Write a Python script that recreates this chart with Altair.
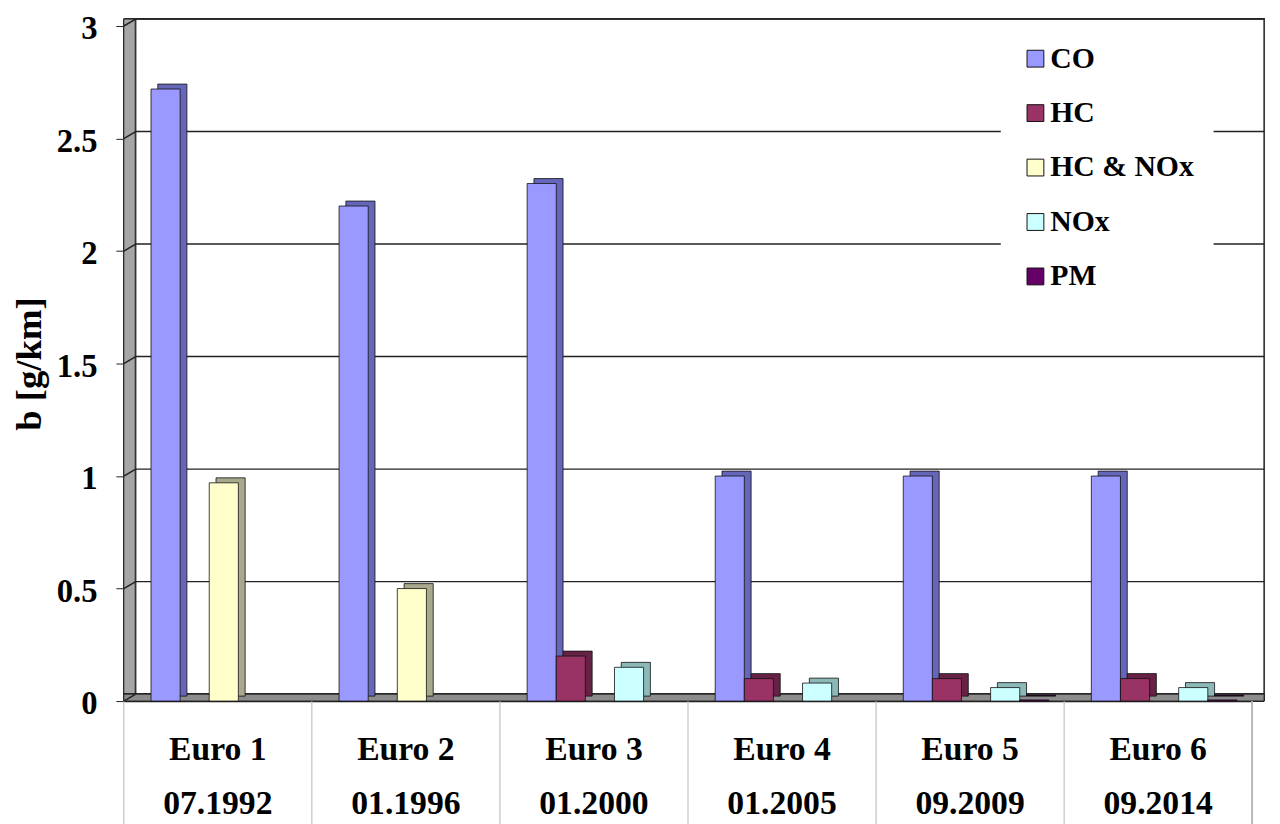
import altair as alt
import pandas as pd

# ---- data ----
CATEGORIES = ["Euro 1", "Euro 2", "Euro 3", "Euro 4", "Euro 5", "Euro 6"]
DATES = ["07.1992", "01.1996", "01.2000", "01.2005", "09.2009", "09.2014"]
SERIES = ["CO", "HC", "HC & NOx", "NOx", "PM"]
CO = [2.72, 2.2, 2.3, 1.0, 1.0, 1.0]
HC = [None, None, 0.2, 0.1, 0.1, 0.1]
HC_NOX = [0.97, 0.5, None, None, None, None]
NOX = [None, None, 0.15, 0.08, 0.06, 0.06]
PM = [None, None, None, None, 0.005, 0.005]
Y_TICKS = [0, 0.5, 1, 1.5, 2, 2.5, 3]

COLORS = ["#9999FF", "#993366", "#FFFFCC", "#CCFFFF", "#660066"]
DARK = ["#6666B8", "#662244", "#A8A88C", "#8CB8B8", "#330033"]

rows = []
for s, vals in zip(SERIES, [CO, HC, HC_NOX, NOX, PM]):
    for c, d, v in zip(CATEGORIES, DATES, vals):
        if v is not None:
            rows.append({"cat": c + "|" + d, "series": s, "value": v})
df = pd.DataFrame(rows)
cat_df = pd.DataFrame({"cat": [c + "|" + d for c, d in zip(CATEGORIES, DATES)]})
tick_df = pd.DataFrame({"tick": Y_TICKS})
CAT_DOMAIN = list(cat_df["cat"])

W, H = 1140, 682
DX, DY = 12, -7
FONT = "Liberation Serif"

xenc = alt.X("cat:N", sort=CAT_DOMAIN,
             scale=alt.Scale(domain=CAT_DOMAIN, paddingInner=0, paddingOuter=0),
             axis=alt.Axis(title=None, labelExpr="split(datum.value, '|')", labelAngle=0,
                           labelFontSize=34, labelFont=FONT, labelFontWeight="bold",
                           labelColor="black", labelLineHeight=55, labelPadding=32,
                           ticks=False, domain=True, domainColor="#222", domainWidth=1.5,
                           labelOverlap=False, labelLimit=300))
yscale = alt.Scale(domain=[0, 3], nice=False)
yenc = alt.Y("value:Q", scale=yscale,
             axis=alt.Axis(title="b [g/km]", values=Y_TICKS, format="~g", grid=False,
                           labelFontSize=33, labelFont=FONT, labelFontWeight="bold",
                           labelColor="black", labelPadding=19, tickSize=8, labelOffset=3,
                           tickColor="#222", domainColor="#222", domainWidth=1.5,
                           titleFontSize=37, titleFont=FONT, titleFontWeight="bold",
                           titleColor="black", titleX=-84, titleBaseline="alphabetic"))


def xoff(align):
    return alt.XOffset("series:N", sort=SERIES,
                       scale=alt.Scale(domain=SERIES, paddingInner=0, paddingOuter=0.73,
                                       align=align))


base = alt.Chart(df)

left_wall = alt.Chart(cat_df).mark_rect(fill="#A6A6A6", stroke="#222", strokeWidth=1).encode(
    x=alt.value(0), x2=alt.value(DX), y=alt.value(DY), y2=alt.value(H))
back_wall = alt.Chart(cat_df).mark_rect(fill="white", stroke="#333", strokeWidth=1.5).encode(
    x=alt.value(DX), x2=alt.value(W + DX), y=alt.value(DY), y2=alt.value(H + DY))
floor = alt.Chart(cat_df).mark_rect(fill="#8C8C8C", stroke="#222", strokeWidth=1).encode(
    x=alt.value(0), x2=alt.value(W + DX), y=alt.value(H + DY), y2=alt.value(H))

grid = alt.Chart(tick_df).transform_filter("datum.tick > 0").mark_rule(
    color="#222", strokeWidth=1.5, yOffset=DY, y2Offset=DY).encode(
    y=alt.Y("tick:Q", scale=yscale), y2="tick:Q",
    x=alt.value(DX), x2=alt.value(W + DX))
diag = alt.Chart(tick_df).mark_rule(color="#222", strokeWidth=1.5, y2Offset=DY).encode(
    y=alt.Y("tick:Q", scale=yscale), y2="tick:Q",
    x=alt.value(0), x2=alt.value(DX))

depth = base.mark_bar(yOffset=-5, stroke="#111", strokeWidth=0.8).encode(
    x=xenc, xOffset=xoff(0.8), y=yenc,
    color=alt.Color("series:N", scale=alt.Scale(domain=SERIES, range=DARK), legend=None))
front = base.mark_bar(stroke="#111", strokeWidth=0.8).encode(
    x=xenc, xOffset=xoff(0.64), y=yenc,
    color=alt.Color("series:N", sort=SERIES, scale=alt.Scale(domain=SERIES, range=COLORS),
                    legend=alt.Legend(title=None, orient="none", legendX=886, legendY=-2,
                                      fillColor="white", padding=20, symbolType="square",
                                      symbolSize=289, symbolStrokeColor="#111",
                                      symbolStrokeWidth=1, labelFont=FONT,
                                      labelFontWeight="bold", labelFontSize=30,
                                      labelColor="black", rowPadding=25, labelOffset=0)))

seps = alt.Chart(cat_df).mark_rule(color="#B5B5B5", strokeWidth=1).encode(
    x=alt.X("cat:N", sort=CAT_DOMAIN, bandPosition=0,
            scale=alt.Scale(domain=CAT_DOMAIN, paddingInner=0, paddingOuter=0)),
    y=alt.value(H), y2=alt.value(H + 130))
right_sep = alt.Chart(cat_df).mark_rule(color="#B5B5B5", strokeWidth=1).encode(
    x=alt.value(W), y=alt.value(H), y2=alt.value(H + 130))

chart = alt.layer(left_wall, back_wall, floor, grid, diag, depth, front, seps, right_sep).resolve_scale(
    color="independent", xOffset="independent"
).properties(
    width=W, height=H,
    autosize=alt.AutoSizeParams(type="none"),
    padding={"left": 117, "top": 14, "right": 20, "bottom": 120},
).configure_view(stroke=None).configure(font=FONT)

chart.save("out.html", embed_options={"renderer": "svg", "actions": False})
